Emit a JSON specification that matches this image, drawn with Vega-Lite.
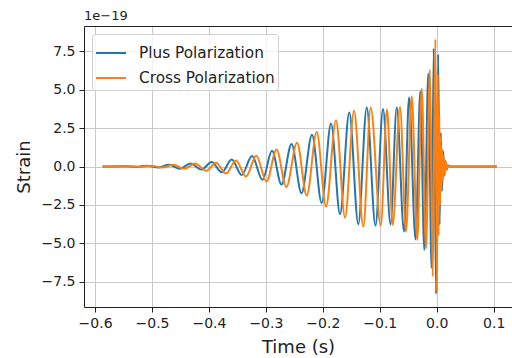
{
  "$schema": "https://vega.github.io/schema/vega-lite/v6.json",
  "width": 428,
  "height": 281,
  "autosize": {"type": "none"},
  "padding": {"left": 84, "top": 26, "right": 0, "bottom": 51},
  "background": "white",
  "config": {
    "view": {"stroke": null},
    "font": "DejaVu Sans",
    "axis": {
      "labelFont": "DejaVu Sans",
      "titleFont": "DejaVu Sans",
      "labelColor": "#222222",
      "titleColor": "#222222",
      "domainColor": "#222222",
      "tickColor": "#222222",
      "gridColor": "#c9c9c9",
      "gridWidth": 1,
      "domainWidth": 1,
      "tickWidth": 1,
      "tickSize": 5,
      "labelFontSize": 14,
      "titleFontSize": 18,
      "titleFontWeight": "normal"
    }
  },
  "title": {
    "text": "1e\u221219",
    "anchor": "start",
    "frame": "group",
    "fontSize": 13,
    "fontWeight": "normal",
    "color": "#222222",
    "offset": 3
  },
  "datasets": {
    "plus": [
      {"t": -0.5869, "h": 0.0},
      {"t": -0.5474, "h": 0.02},
      {"t": -0.5281, "h": -0.03},
      {"t": -0.5088, "h": 0.05},
      {"t": -0.4895, "h": -0.07},
      {"t": -0.4701, "h": 0.11},
      {"t": -0.4508, "h": -0.15},
      {"t": -0.4324, "h": 0.2},
      {"t": -0.4131, "h": -0.2},
      {"t": -0.3952, "h": 0.3},
      {"t": -0.3776, "h": -0.38},
      {"t": -0.36, "h": 0.45},
      {"t": -0.3425, "h": -0.55},
      {"t": -0.3244, "h": 0.68},
      {"t": -0.3059, "h": -0.87},
      {"t": -0.2893, "h": 1.02},
      {"t": -0.2726, "h": -1.18},
      {"t": -0.255, "h": 1.47},
      {"t": -0.2374, "h": -1.74},
      {"t": -0.219, "h": 2.07},
      {"t": -0.202, "h": -2.39},
      {"t": -0.1856, "h": 2.8},
      {"t": -0.1698, "h": -3.11},
      {"t": -0.1535, "h": 3.52},
      {"t": -0.1377, "h": -3.76},
      {"t": -0.1229, "h": 3.85},
      {"t": -0.1075, "h": -3.85},
      {"t": -0.0943, "h": 3.75},
      {"t": -0.0811, "h": -3.76},
      {"t": -0.0702, "h": 3.85},
      {"t": -0.0574, "h": -4.24},
      {"t": -0.0486, "h": 4.5},
      {"t": -0.0372, "h": -4.75},
      {"t": -0.0288, "h": 4.9},
      {"t": -0.0218, "h": -5.43},
      {"t": -0.0148, "h": 6.05},
      {"t": -0.009, "h": -6.63},
      {"t": -0.0053, "h": 7.7},
      {"t": -0.0012, "h": -8.3},
      {"t": 0.0026, "h": 7.3},
      {"t": 0.0051, "h": -3.8},
      {"t": 0.0072, "h": 2.2},
      {"t": 0.0093, "h": -1.6},
      {"t": 0.0114, "h": 1.0},
      {"t": 0.0135, "h": -0.6},
      {"t": 0.0156, "h": 0.35},
      {"t": 0.0177, "h": -0.2},
      {"t": 0.0198, "h": 0.08},
      {"t": 0.0225, "h": 0.0},
      {"t": 0.1054, "h": 0.0}
    ],
    "cross": [
      {"t": -0.5869, "h": 0.0},
      {"t": -0.5395, "h": 0.02},
      {"t": -0.5202, "h": -0.03},
      {"t": -0.5009, "h": 0.05},
      {"t": -0.4816, "h": -0.07},
      {"t": -0.4622, "h": 0.11},
      {"t": -0.4429, "h": -0.15},
      {"t": -0.4245, "h": 0.2},
      {"t": -0.4043, "h": -0.28},
      {"t": -0.3876, "h": 0.25},
      {"t": -0.37, "h": -0.46},
      {"t": -0.3525, "h": 0.39},
      {"t": -0.3349, "h": -0.65},
      {"t": -0.3168, "h": 0.7},
      {"t": -0.2989, "h": -0.98},
      {"t": -0.2813, "h": 1.1},
      {"t": -0.2641, "h": -1.33},
      {"t": -0.2453, "h": 1.55},
      {"t": -0.2283, "h": -1.89},
      {"t": -0.2107, "h": 2.24},
      {"t": -0.1944, "h": -2.61},
      {"t": -0.1769, "h": 3.02},
      {"t": -0.161, "h": -3.33},
      {"t": -0.1452, "h": 3.63},
      {"t": -0.1289, "h": -3.91},
      {"t": -0.1159, "h": 3.85},
      {"t": -0.0983, "h": -3.85},
      {"t": -0.0873, "h": 3.72},
      {"t": -0.0773, "h": -3.8},
      {"t": -0.0645, "h": 3.88},
      {"t": -0.0539, "h": -4.24},
      {"t": -0.0439, "h": 4.57},
      {"t": -0.0341, "h": -4.78},
      {"t": -0.0263, "h": 5.07},
      {"t": -0.0188, "h": -5.33},
      {"t": -0.0118, "h": 6.3},
      {"t": -0.007, "h": -7.17},
      {"t": -0.0023, "h": 8.28},
      {"t": 0.0005, "h": -8.15},
      {"t": 0.0019, "h": 6.0},
      {"t": 0.0033, "h": -4.5},
      {"t": 0.0046, "h": 3.3},
      {"t": 0.0058, "h": -2.5},
      {"t": 0.007, "h": 1.9},
      {"t": 0.0083, "h": -1.5},
      {"t": 0.0095, "h": 1.1},
      {"t": 0.0107, "h": -0.9},
      {"t": 0.0119, "h": 0.7},
      {"t": 0.0132, "h": -0.55},
      {"t": 0.0144, "h": 0.42},
      {"t": 0.0156, "h": -0.32},
      {"t": 0.0169, "h": 0.22},
      {"t": 0.0181, "h": -0.14},
      {"t": 0.0193, "h": 0.07},
      {"t": 0.0207, "h": 0.0},
      {"t": 0.1054, "h": 0.0}
    ]
  },
  "resolve": {"axis": {"x": "independent"}},
  "layer": [
    {
      "data": {"name": "plus"},
      "mark": {"type": "line", "strokeWidth": 2, "interpolate": "monotone", "clip": true},
      "encoding": {
        "x": {
          "field": "t",
          "type": "quantitative",
          "scale": {"domain": [-0.6194, 0.1322], "nice": false, "zero": false},
          "axis": {
            "orient": "bottom",
            "values": [-0.6, -0.5, -0.4, -0.3, -0.2, -0.1, 0.0, 0.1],
            "format": ".1f",
            "title": "Time (s)",
            "labelPadding": 4,
            "titlePadding": 8,
            "grid": true
          }
        },
        "y": {
          "field": "h",
          "type": "quantitative",
          "scale": {"domain": [-9.15, 9.15], "nice": false, "zero": false},
          "axis": {
            "values": [-7.5, -5.0, -2.5, 0.0, 2.5, 5.0, 7.5],
            "format": ".1f",
            "title": "Strain",
            "labelPadding": 4,
            "titlePadding": 8,
            "grid": true
          }
        },
        "color": {
          "datum": "Plus Polarization",
          "type": "nominal",
          "scale": {"domain": ["Plus Polarization", "Cross Polarization"], "range": ["#1f77b4", "#ff7f0e"]},
          "legend": {
            "title": null,
            "orient": "top-left",
            "offset": 8,
            "symbolType": "stroke",
            "symbolSize": 900,
            "symbolStrokeWidth": 2,
            "labelFontSize": 15.3,
            "labelFont": "DejaVu Sans",
            "labelColor": "#222222",
            "labelOffset": 12,
            "rowPadding": -6,
            "padding": 3,
            "fillColor": "rgba(255,255,255,0.8)",
            "strokeColor": "#d0d0d0",
            "cornerRadius": 3
          }
        }
      }
    },
    {
      "data": {"name": "cross"},
      "mark": {"type": "line", "strokeWidth": 2, "interpolate": "monotone", "clip": true},
      "encoding": {
        "x": {
          "field": "t",
          "type": "quantitative",
          "axis": {
            "orient": "top",
            "labels": false,
            "ticks": false,
            "grid": false,
            "domain": true,
            "title": null
          }
        },
        "y": {"field": "h", "type": "quantitative"},
        "color": {"datum": "Cross Polarization", "type": "nominal"}
      }
    }
  ]
}
